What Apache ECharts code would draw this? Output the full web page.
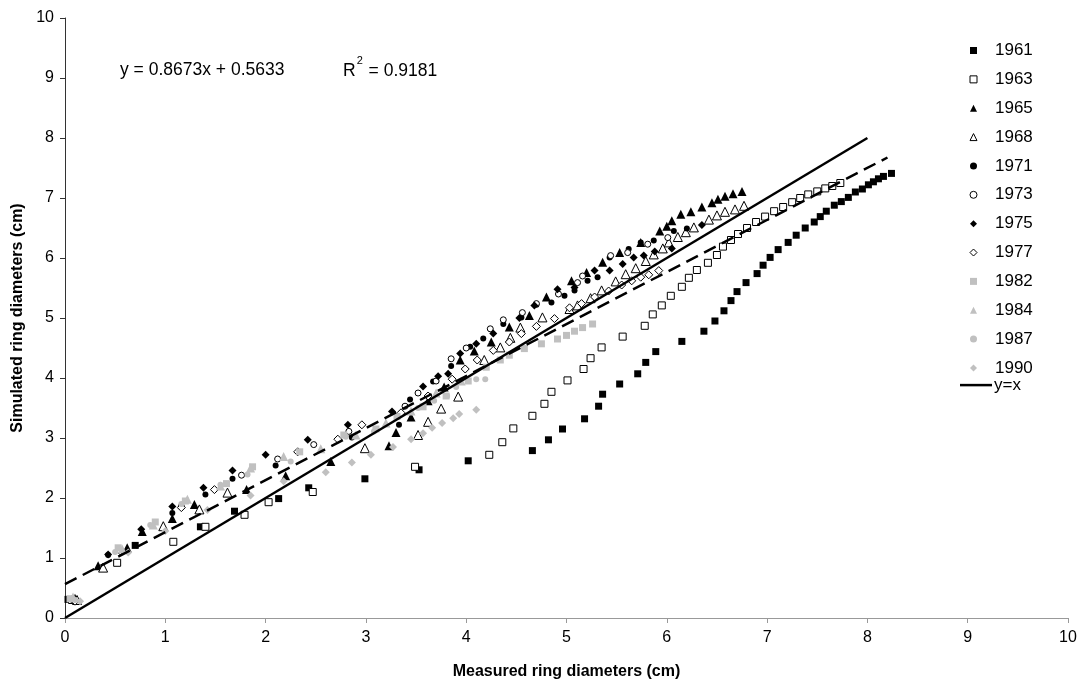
<!DOCTYPE html>
<html><head><meta charset="utf-8">
<script src="https://cdn.jsdelivr.net/npm/echarts@6/dist/echarts.min.js"></script>
<style>html,body{margin:0;padding:0;background:#fff}#c{width:1082px;height:681px}</style>
</head><body><div id="c"></div>
<script>
const years = ['1961','1963','1965','1968','1971','1973','1975','1977','1982','1984','1987','1990'];
const s1961 = [[0.03,0.31],[0.70,1.21],[1.35,1.52],[1.69,1.78],[2.13,1.99],[2.43,2.17],[2.99,2.32],[3.53,2.47],[4.02,2.62],[4.66,2.79],[4.82,2.97],[4.96,3.15],[5.18,3.32],[5.32,3.53],[5.36,3.73],[5.53,3.90],[5.71,4.07],[5.79,4.26],[5.89,4.44],[6.15,4.61],[6.37,4.78],[6.48,4.95],[6.57,5.12],[6.64,5.29],[6.70,5.44],[6.79,5.59],[6.90,5.74],[6.96,5.88],[7.03,6.01],[7.11,6.14],[7.21,6.26],[7.29,6.38],[7.38,6.50],[7.47,6.60],[7.53,6.69],[7.59,6.78],[7.67,6.88],[7.74,6.94],[7.81,7.01],[7.88,7.10],[7.95,7.15],[8.01,7.22],[8.06,7.27],[8.11,7.32],[8.16,7.36],[8.24,7.41]];
const s1963 = [[0.07,0.30],[0.52,0.92],[1.08,1.27],[1.40,1.52],[1.79,1.72],[2.03,1.93],[2.47,2.10],[3.49,2.52],[4.23,2.72],[4.36,2.93],[4.47,3.16],[4.66,3.37],[4.78,3.57],[4.85,3.77],[5.01,3.96],[5.17,4.15],[5.24,4.33],[5.35,4.51],[5.56,4.69],[5.78,4.87],[5.86,5.06],[5.95,5.21],[6.04,5.37],[6.15,5.52],[6.22,5.67],[6.30,5.80],[6.41,5.92],[6.50,6.05],[6.56,6.19],[6.64,6.30],[6.71,6.40],[6.80,6.50],[6.89,6.60],[6.98,6.69],[7.07,6.78],[7.16,6.85],[7.25,6.93],[7.33,7.00],[7.41,7.06],[7.50,7.11],[7.58,7.16],[7.65,7.20],[7.73,7.25]];
const s1965 = [[0.10,0.33],[0.33,0.87],[0.62,1.17],[0.77,1.44],[1.07,1.66],[1.29,1.89],[1.81,2.14],[2.20,2.37],[2.65,2.61],[3.23,2.87],[3.30,3.09],[3.45,3.35],[3.62,3.62],[3.78,3.85],[3.94,4.30],[4.08,4.45],[4.25,4.60],[4.43,4.85],[4.63,5.04],[4.80,5.35],[5.05,5.62],[5.20,5.76],[5.36,5.93],[5.53,6.09],[5.74,6.26],[5.93,6.45],[6.00,6.53],[6.05,6.62],[6.14,6.73],[6.24,6.77],[6.35,6.85],[6.45,6.92],[6.51,6.98],[6.58,7.03],[6.66,7.07],[6.75,7.11]];
const s1968 = [[0.12,0.30],[0.38,0.84],[0.98,1.53],[1.34,1.81],[1.62,2.09],[2.99,2.83],[3.52,3.05],[3.62,3.27],[3.75,3.49],[3.92,3.69],[4.18,4.30],[4.34,4.51],[4.44,4.67],[4.54,4.84],[4.76,5.01],[5.03,5.15],[5.11,5.21],[5.24,5.33],[5.35,5.46],[5.49,5.61],[5.59,5.73],[5.69,5.83],[5.79,5.95],[5.87,6.06],[5.96,6.16],[6.02,6.26],[6.11,6.35],[6.19,6.43],[6.27,6.51],[6.42,6.64],[6.50,6.71],[6.58,6.77],[6.68,6.81],[6.77,6.87]];
const s1971 = [[0.43,1.05],[1.07,1.75],[1.40,2.06],[1.67,2.32],[2.10,2.54],[2.86,3.01],[3.33,3.22],[3.44,3.64],[3.67,3.94],[3.85,4.20],[4.04,4.52],[4.17,4.66],[4.37,4.90],[4.55,5.01],[4.70,5.22],[4.85,5.26],[4.98,5.37],[5.08,5.46],[5.21,5.62],[5.31,5.68],[5.43,6.01],[5.62,6.15],[5.74,6.26],[5.87,6.29],[6.07,6.45],[6.20,6.49]];
const s1973 = [[0.08,0.32],[1.16,1.86],[1.76,2.38],[2.12,2.65],[2.48,2.89],[2.83,3.11],[3.39,3.53],[3.52,3.75],[3.70,3.95],[3.85,4.32],[4.00,4.50],[4.24,4.82],[4.37,4.97],[4.56,5.09],[4.70,5.24],[4.92,5.40],[5.11,5.59],[5.16,5.70],[5.44,6.04],[5.61,6.09],[5.81,6.23],[6.01,6.34]];
const s1975 = [[0.43,1.06],[0.76,1.48],[1.07,1.86],[1.38,2.17],[1.67,2.46],[2.00,2.72],[2.42,2.97],[2.82,3.22],[3.26,3.44],[3.57,3.86],[3.72,4.03],[3.82,4.07],[3.94,4.41],[4.10,4.57],[4.27,4.74],[4.53,5.00],[4.68,5.21],[4.91,5.48],[5.08,5.51],[5.28,5.79],[5.43,5.79],[5.56,5.90],[5.67,6.01],[5.77,6.04],[5.88,6.11],[6.05,6.16],[6.35,6.55]];
const s1977 = [[0.10,0.28],[0.55,1.12],[1.16,1.84],[1.49,2.14],[2.32,2.77],[2.72,2.98],[2.96,3.22],[3.35,3.42],[3.62,3.70],[3.86,3.98],[3.99,4.15],[4.11,4.30],[4.27,4.46],[4.43,4.60],[4.55,4.74],[4.70,4.86],[4.88,4.99],[5.03,5.17],[5.15,5.24],[5.28,5.35],[5.42,5.45],[5.55,5.55],[5.65,5.62],[5.74,5.68],[5.82,5.72],[5.92,5.79]];
const s1982 = [[0.05,0.32],[0.53,1.17],[0.90,1.60],[1.20,1.95],[1.61,2.24],[1.87,2.52],[2.34,2.77],[2.78,3.05],[3.10,3.15],[3.31,3.36],[3.57,3.52],[3.80,3.70],[4.02,3.95],[4.20,4.18],[4.34,4.30],[4.43,4.38],[4.58,4.49],[4.75,4.57],[4.91,4.65],[5.00,4.71],[5.08,4.78],[5.16,4.84],[5.26,4.90]];
const s1984 = [[0.08,0.35],[0.57,1.15],[0.88,1.55],[1.22,1.98],[1.55,2.20],[1.85,2.50],[2.18,2.69],[2.55,2.82],[2.90,3.05],[3.20,3.25],[3.45,3.45],[3.70,3.75],[3.95,3.95]];
const s1987 = [[0.10,0.30],[0.50,1.10],[0.85,1.55],[1.16,1.90],[1.55,2.22],[1.82,2.39],[2.25,2.61],[2.80,3.02],[3.08,3.11],[3.31,3.36],[3.52,3.50],[3.68,3.62],[3.81,3.70],[3.90,3.85],[4.10,3.98],[4.19,3.98]];
const s1990 = [[0.15,0.28],[0.63,1.09],[1.00,1.45],[1.42,1.80],[1.85,2.04],[2.18,2.28],[2.60,2.43],[2.86,2.59],[3.05,2.72],[3.27,2.85],[3.45,2.98],[3.57,3.08],[3.66,3.17],[3.76,3.25],[3.87,3.33],[3.93,3.40],[4.10,3.47]];
const trendLine = [[0,0.5633],[8.2,7.675]];
const identityLine = [[0,0],[8,8]];
const eqText = 'y = 0.8673x + 0.5633';
const r2Text = '0.9181';
const xTitle = 'Measured ring diameters (cm)';
const yTitle = 'Simulated ring diameters (cm)';

const seriesData = [s1961,s1963,s1965,s1968,s1971,s1973,s1975,s1977,s1982,s1984,s1987,s1990];
const FONT = '"Liberation Sans", Arial, sans-serif';
const GRAY = '#c0c0c0';
const styles = [
  ['rect',7,'#000',false],['rect',7,'#fff',true],
  ['triangle',9,'#000',false],['triangle',9,'#fff',true],
  ['circle',6,'#000',false],['circle',6,'#fff',true],
  ['diamond',8,'#000',false],['diamond',8,'#fff',true],
  ['rect',7,GRAY,false],['triangle',9,GRAY,false],['circle',6,GRAY,false],['diamond',8,GRAY,false]
];
const series = years.map((y,i)=>({
  name:y, type:'scatter', data:seriesData[i], symbol:styles[i][0], symbolSize:styles[i][1],
  itemStyle: styles[i][3] ? {color:'#fff', borderColor:'#000', borderWidth:1, opacity:1} : {color:styles[i][2], opacity:1},
  emphasis:{disabled:true}
}));
series.push({name:'trend', type:'line', data:trendLine, symbol:'none', showSymbol:false, silent:true,
  itemStyle:{color:'#000'}, lineStyle:{color:'#000', width:2.5, type:[13,7]}});
series.push({name:'y=x', type:'line', data:identityLine, symbol:'none', showSymbol:false, silent:true,
  itemStyle:{color:'#000'}, lineStyle:{color:'#000', width:2.5}});

const chart = echarts.init(document.getElementById('c'));
chart.setOption({
  animation:false,
  backgroundColor:'#fff',
  textStyle:{fontFamily:FONT},
  grid:{left:65, right:14, top:18, bottom:63, containLabel:false, outerBoundsMode:'none'},
  xAxis:{type:'value', min:0, max:10, interval:1,
    name:xTitle, nameLocation:'middle', nameGap:46,
    nameTextStyle:{fontFamily:FONT, fontSize:16, fontWeight:'bold', color:'#000'},
    axisLine:{onZero:false, lineStyle:{color:'#999', width:1}},
    axisTick:{show:true, length:5, lineStyle:{color:'#999'}},
    axisLabel:{fontFamily:FONT, fontSize:16, color:'#000', margin:12},
    splitLine:{show:false}},
  yAxis:{type:'value', min:0, max:10, interval:1,
    name:yTitle, nameLocation:'middle', nameGap:36, nameRotate:90,
    nameTextStyle:{fontFamily:FONT, fontSize:16, fontWeight:'bold', color:'#000'},
    axisLine:{show:true, onZero:false, lineStyle:{color:'#333', width:1}},
    axisTick:{show:true, length:5, lineStyle:{color:'#333'}},
    axisLabel:{fontFamily:FONT, fontSize:16, color:'#000', margin:11},
    splitLine:{show:false}},
  legend:[
    {data:years.map((y,i)=>(styles[i][3] ? {name:y, itemStyle:{borderWidth:1}} : {name:y})),
     orient:'vertical', left:969.5, top:42, padding:0,
     itemWidth:7, itemHeight:7, itemGap:11.86, symbolKeepAspect:true,
     textStyle:{fontFamily:FONT, fontSize:17, color:'#000', lineHeight:16, padding:[0,0,0,13]}, selectedMode:false},
    {data:[{name:'y=x', icon:'rect'}], orient:'vertical', left:960, top:376.6, padding:0, itemWidth:32, itemHeight:2.5,
     itemStyle:{color:'#000', borderWidth:0},
     textStyle:{fontFamily:FONT, fontSize:17, color:'#000', lineHeight:16, padding:[0,0,0,-3]}, selectedMode:false}
  ],
  graphic:[
    {type:'text', left:120, top:61, style:{text:eqText, font:'17.5px '+FONT, fill:'#000'}},
    {type:'text', left:343, top:55, style:{text:'{n|R}{s|2}{n| = '+r2Text+'}', fill:'#000',
      rich:{n:{fontFamily:FONT, fontSize:17.5, lineHeight:25, verticalAlign:'bottom'},
            s:{fontFamily:FONT, fontSize:11, lineHeight:12, verticalAlign:'top', padding:[0,1,0,1]}}}}
  ],
  series:series
});
</script></body></html>
